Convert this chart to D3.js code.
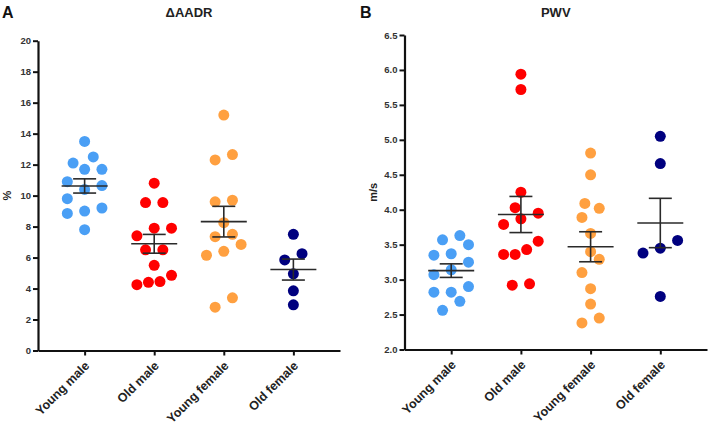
<!DOCTYPE html>
<html><head><meta charset="utf-8">
<script src="https://cdn.jsdelivr.net/npm/d3@7"></script>
<style>
html,body{margin:0;padding:0;background:#fff;}
text{font-family:"Liberation Sans",Arial,sans-serif;font-weight:bold;}
</style></head>
<body><svg id="chart" width="710" height="430"></svg>
<script>
// ---------- data ----------
const categories = ["Young male", "Old male", "Young female", "Old female"];
const groupColors = ["#4a9ff5", "#ff0000", "#ffa040", "#00007f"];

// Panel A: ΔAADR (%)
const aadrYoungMale   = [13.5, 12.5, 12.1, 11.7, 11.7, 10.9, 10.65, 10.4, 9.8, 9.2, 9.0, 8.85, 7.8];
const aadrOldMale     = [10.8, 9.55, 9.55, 7.9, 7.9, 7.4, 6.5, 6.5, 5.5, 4.85, 4.45, 4.4, 4.25];
const aadrYoungFemale = [15.2, 12.65, 12.3, 9.7, 9.6, 8.25, 7.5, 7.35, 6.85, 6.4, 6.15, 3.4, 2.8];
const aadrOldFemale   = [7.5, 6.25, 5.85, 4.95, 3.85, 2.95];
const aadrTicks = [0, 2, 4, 6, 8, 10, 12, 14, 16, 18, 20];

// Panel B: PWV (m/s)
const pwvYoungMale   = [3.63, 3.57, 3.50, 3.37, 3.35, 3.25, 3.14, 3.07, 2.90, 2.82, 2.82, 2.69, 2.56];
const pwvOldMale     = [5.94, 5.72, 4.25, 4.03, 3.95, 3.87, 3.79, 3.55, 3.43, 3.36, 3.36, 2.94, 2.92];
const pwvYoungFemale = [4.81, 4.50, 4.09, 4.02, 3.89, 3.66, 3.40, 3.29, 3.10, 2.87, 2.65, 2.45, 2.38];
const pwvOldFemale   = [5.05, 4.66, 3.56, 3.45, 3.38, 2.76];
const pwvTicks = [2.0, 2.5, 3.0, 3.5, 4.0, 4.5, 5.0, 5.5, 6.0, 6.5];

// ---------- drawing ----------
const svg = d3.select("#chart");
const R = 5.5;          // dot radius
const COL = 17.3;       // column spacing of the scatter
const HALFW = 17.3;     // max half-width of a row
const ROWT = 13.8;      // row grouping threshold (px)

function swarm(vals, y) {
  const n = vals.length;
  const idx = d3.range(n).sort((a, b) => vals[a] - vals[b]);
  const rows = [];
  let cur = null;
  for (const i of idx) {
    if (cur && Math.abs(y(vals[cur[0]]) - y(vals[i])) < ROWT) cur.push(i);
    else { cur = [i]; rows.push(cur); }
  }
  const off = new Array(n);
  const placed = [];
  const hits = (o, py) => placed.some(p => Math.hypot(p[0] - o, p[1] - py) < 2 * R + 0.3);
  for (const row of rows) {
    const m = row.length;
    let step = m > 1 ? Math.min(COL, 2 * HALFW / (m - 1)) : 0;
    if (m > 1) step = Math.max(step, 2 * R + 0.5);
    const slots = d3.range(m).map(k => (k - (m - 1) / 2) * step);
    row.forEach((i, k) => {
      const py = y(vals[i]);
      let o = slots[k];
      if (hits(o, py)) {
        const cands = d3.range(-6, 7).map(j => j * COL / 3)
          .sort((a, b) => Math.abs(a - o) - Math.abs(b - o) || a - b);
        const c = cands.find(c => !hits(c, py));
        if (c !== undefined) o = c;
      }
      off[i] = o;
      placed.push([o, py]);
    });
  }
  return off;
}

function panel(opt) {
  const g = svg.append("g");
  const x = d3.scalePoint().domain(categories).range([opt.x0, opt.x1]).padding(0.67);
  const y = d3.scaleLinear().domain(opt.domain).range([opt.y0, opt.y1]);

  // axes
  const ya = g.append("g").attr("transform", `translate(${opt.x0},0)`)
    .call(d3.axisLeft(y).tickValues(opt.ticks).tickFormat(opt.fmt).tickSize(5).tickSizeOuter(0).tickPadding(2));
  ya.select(".domain").attr("stroke", "#111").attr("stroke-width", 2.2);
  ya.selectAll(".tick line").attr("stroke", "#111").attr("stroke-width", 2);
  ya.selectAll(".tick text").attr("fill", "#333").style("font-size", "9.5px").style("font-family", '"Liberation Sans",Arial,sans-serif').style("font-weight", "bold");

  const xa = g.append("g").attr("transform", `translate(0,${opt.y0})`)
    .call(d3.axisBottom(x).tickSize(5).tickSizeOuter(0));
  xa.select(".domain").attr("stroke", "#111").attr("stroke-width", 2.2);
  xa.selectAll(".tick line").attr("stroke", "#111").attr("stroke-width", 2);
  xa.selectAll(".tick text")
    .attr("x", 0).attr("y", 0).attr("dy", null)
    .attr("transform", "translate(5,16) rotate(-45)")
    .style("text-anchor", "end")
    .attr("fill", "#222")
    .style("font-size", "12.5px").style("font-family", '"Liberation Sans",Arial,sans-serif').style("font-weight", "bold");

  // axis label
  g.append("text")
    .attr("transform", `translate(${opt.labelX},${(opt.y0 + opt.y1) / 2}) rotate(-90)`)
    .attr("text-anchor", "middle").attr("fill", "#222").style("font-size", "11px")
    .text(opt.yLabel);

  // title & panel letter
  g.append("text").attr("x", (opt.x0 + opt.x1) / 2).attr("y", 17)
    .attr("text-anchor", "middle").attr("fill", "#222").style("font-size", "13px").text(opt.title);
  g.append("text").attr("x", opt.letterX).attr("y", 18)
    .attr("fill", "#111").style("font-size", "16px").text(opt.letter);

  // dots
  opt.groups.forEach((vals, gi) => {
    const off = swarm(vals, y);
    g.append("g").selectAll("circle").data(vals).join("circle")
      .attr("cx", (d, i) => x(categories[gi]) + off[i])
      .attr("cy", d => y(d))
      .attr("r", R)
      .attr("fill", groupColors[gi]);
  });

  // mean ± SEM
  opt.groups.forEach((vals, gi) => {
    const cx = x(categories[gi]);
    const m = d3.mean(vals);
    const se = d3.deviation(vals) / Math.sqrt(vals.length);
    const eg = g.append("g").attr("stroke", "#2a2a2a").attr("stroke-width", 1.6);
    eg.append("line").attr("x1", cx - 23).attr("x2", cx + 23).attr("y1", y(m)).attr("y2", y(m));
    eg.append("line").attr("x1", cx).attr("x2", cx).attr("y1", y(m - se)).attr("y2", y(m + se));
    eg.append("line").attr("x1", cx - 11.5).attr("x2", cx + 11.5).attr("y1", y(m + se)).attr("y2", y(m + se));
    eg.append("line").attr("x1", cx - 11.5).attr("x2", cx + 11.5).attr("y1", y(m - se)).attr("y2", y(m - se));
  });
}

panel({
  x0: 38, x1: 340, y0: 350.5, y1: 40.7, domain: [0, 20], ticks: aadrTicks, fmt: d3.format("d"),
  yLabel: "%", labelX: 11, title: "ΔAADR", letter: "A", letterX: 2,
  groups: [aadrYoungMale, aadrOldMale, aadrYoungFemale, aadrOldFemale]
});
panel({
  x0: 404.5, x1: 707, y0: 349.5, y1: 35, domain: [2, 6.5], ticks: pwvTicks, fmt: d3.format(".1f"),
  yLabel: "m/s", labelX: 377, title: "PWV", letter: "B", letterX: 360,
  groups: [pwvYoungMale, pwvOldMale, pwvYoungFemale, pwvOldFemale]
});
</script></body></html>
